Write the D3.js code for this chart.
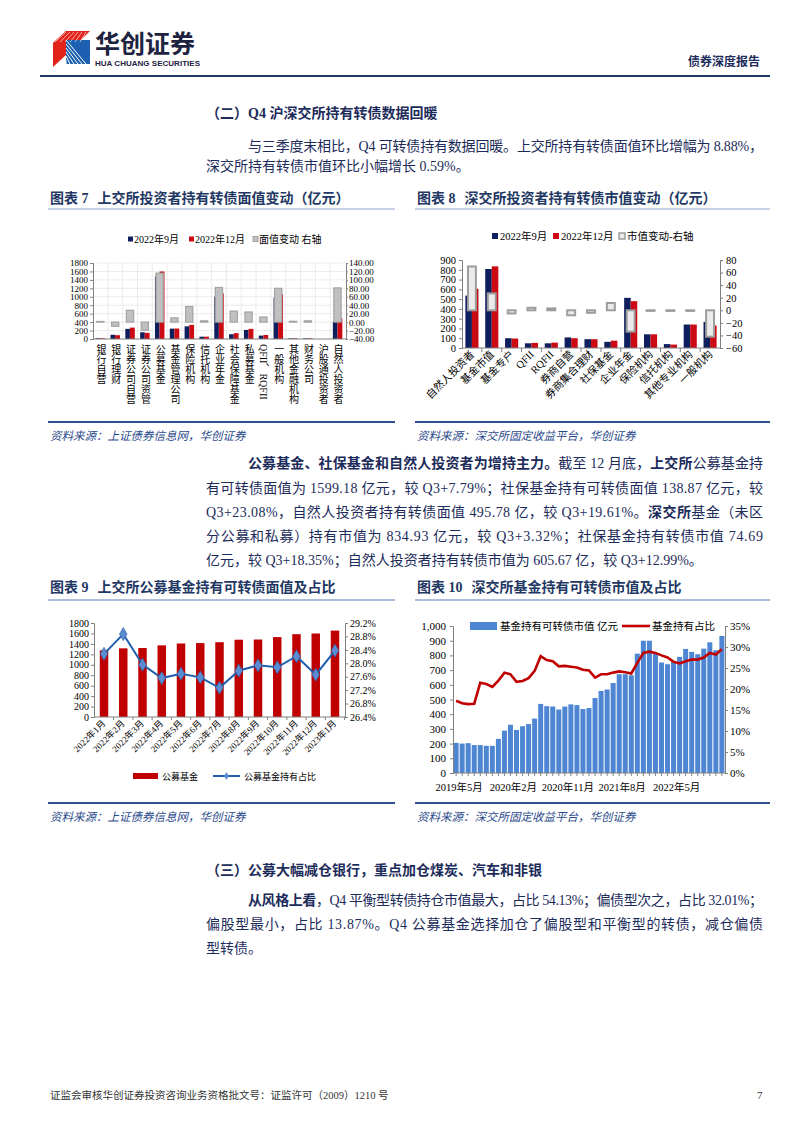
<!DOCTYPE html>
<html><head><meta charset="utf-8">
<script src="https://cdn.jsdelivr.net/npm/d3@7"></script>
<style>
body{margin:0;background:#fff;}
svg{display:block;}
</style></head><body><svg id="page" width="802" height="1133"></svg>
<script>
// ---------------- DATA ----------------
const c7Categories = ["银行自营","银行理财","证券公司自营","证券公司资管","公募基金","基金管理公司","保险机构","信托机构","企业年金","社会保障基金","私募基金","QFII、RQFII","一般机构","其他金融机构","财务公司","沪股通投资者","自然人投资者"];
const c7Sep    = [18, 100, 240, 160, 1484, 245, 300, 55, 1000, 113, 215, 80, 975, 15, 15, 0, 415];
const c7Dec    = [18, 90, 270, 145, 1599, 248, 335, 55, 1080, 139, 240, 95, 1055, 15, 15, 0, 496];
const c7Change = [1.5, -10, 28, -19, 116, 10, 37, 3, 82, 26, 24, 12, 80, 2, 3, 0, 81];
const c7LeftTicks = [0,200,400,600,800,1000,1200,1400,1600,1800];
const c7RightTicks = [-40,-20,0,20,40,60,80,100,120,140];
const c7Legend = ["2022年9月","2022年12月","面值变动 右轴"];

const c8Categories = ["自然人投资者","基金市值","基金专户","QFII","RQFII","券商自营","券商集合理财","社保基金","企业年金","保险机构","信托机构","其他专业机构","一般机构"];
const c8Sep    = [536, 808, 100, 48, 48, 108, 90, 63, 513, 140, 40, 240, 267];
const c8Dec    = [606, 835, 97, 52, 55, 100, 90, 75, 479, 140, 35, 240, 230];
const c8Change = [69.7, 26.9, -5, 4, 3, -8, -4, 11.6, -34, -1, -1, -1, -42];
const c8LeftTicks = [0,100,200,300,400,500,600,700,800,900];
const c8RightTicks = [-60,-40,-20,0,20,40,60,80];
const c8Legend = ["2022年9月","2022年12月","市值变动-右轴"];

const c9Months = ["2022年1月","2022年2月","2022年3月","2022年4月","2022年5月","2022年6月","2022年7月","2022年8月","2022年9月","2022年10月","2022年11月","2022年12月","2023年1月"];
const c9Values = [1276, 1315, 1321, 1372, 1408, 1415, 1432, 1480, 1484, 1530, 1586, 1599, 1655];
const c9Ratio  = [28.28, 28.87, 27.96, 27.56, 27.69, 27.58, 27.27, 27.78, 27.94, 27.88, 28.21, 27.66, 28.38];
const c9LeftTicks = [0,200,400,600,800,1000,1200,1400,1600,1800];
const c9RightTicks = [26.4,26.8,27.2,27.6,28.0,28.4,28.8,29.2];
const c9Legend = ["公募基金","公募基金持有占比"];

const c10Months = ["2019年5月","2019年6月","2019年7月","2019年8月","2019年9月","2019年10月","2019年11月","2019年12月",
 "2020年1月","2020年2月","2020年3月","2020年4月","2020年5月","2020年6月","2020年7月","2020年8月","2020年9月","2020年10月","2020年11月","2020年12月",
 "2021年1月","2021年2月","2021年3月","2021年4月","2021年5月","2021年6月","2021年7月","2021年8月","2021年9月","2021年10月","2021年11月","2021年12月",
 "2022年1月","2022年2月","2022年3月","2022年4月","2022年5月","2022年6月","2022年7月","2022年8月","2022年9月","2022年10月","2022年11月","2022年12月","2023年1月"];
const c10Values = [205,200,203,190,190,185,185,232,288,328,293,318,333,370,470,455,452,432,452,467,462,435,442,510,558,568,612,672,672,665,812,900,900,812,752,740,756,790,844,824,808,846,889,835,932];
const c10Ratio  = [17.2,16.6,16.4,16.5,21.5,21.2,20.5,22.0,23.9,23.5,21.7,21.9,22.6,24.3,27.8,26.9,26.6,25.4,25.5,25.3,25.1,24.6,24.4,22.7,23.5,23.5,23.9,24.2,24.0,23.7,26.2,28.6,28.9,28.6,28.0,27.5,26.5,26.1,26.6,27.0,27.0,27.5,28.6,28.2,29.5];
const c10LabelMonths = ["2019年5月","2020年2月","2020年11月","2021年8月","2022年5月"];
const c10LeftTicks = [0,100,200,300,400,500,600,700,800,900,1000];
const c10RightTicks = [0,0.05,0.10,0.15,0.20,0.25,0.30,0.35];
const c10Legend = ["基金持有可转债市值 亿元","基金持有占比"];

// ---------------- SETUP ----------------
const svg = d3.select("#page");
svg.append("rect").attr("width",802).attr("height",1133).attr("fill","#fff");
const NAVY = "#1c2b5a";
const SERIF = '"Liberation Serif","Noto Sans CJK SC",serif';
const CJK = '"Noto Sans CJK SC","Liberation Serif",sans-serif';
const BAR_NAVY = "#0f1f5e", BAR_RED = "#cc0a14";

function styleAxis(g, fs){
  g.attr("font-family",null).attr("font-size",null);
  g.select(".domain").attr("stroke","#808080");
  g.selectAll(".tick line").attr("stroke","#808080");
  g.selectAll(".tick text").attr("fill","#000").attr("font-size",fs).attr("font-family",SERIF);
}
function txt(x,y,s,opt={}){
  const t = svg.append("text").attr("x",x).attr("y",y).text(s)
    .attr("font-family",opt.family||SERIF).attr("font-size",opt.size||14)
    .attr("fill",opt.fill||NAVY);
  if(opt.bold) t.attr("font-weight","bold");
  if(opt.anchor) t.attr("text-anchor",opt.anchor);
  if(opt.italic) t.attr("font-style","italic");
  return t;
}
function richLine(x,y,segs,width,size){
  const t = svg.append("text").attr("x",x).attr("y",y).attr("font-family",SERIF)
    .attr("font-size",size||14).attr("fill",NAVY);
  segs.forEach(s=>{ const ts=t.append("tspan").text(s[0]); if(s[1]) ts.attr("font-weight","bold"); });
  if(width) t.attr("textLength",width).attr("lengthAdjust","spacing");
  return t;
}
function figTitle(x,y,label,title){
  const t = svg.append("text").attr("x",x).attr("y",y).attr("font-family",SERIF)
    .attr("font-size",14).attr("font-weight","bold").attr("fill","#1f3864");
  t.append("tspan").text(label);
  t.append("tspan").attr("dx",9).text(title);
}

// ---------------- HEADER ----------------
const logo = svg.append("g");
logo.append("path").attr("d","M53,43 L66,31 L66,55 L53,67 Z").attr("fill","#e2231a");
logo.append("path").attr("d","M66,31 L90,31 L78,43 L53,43 Z").attr("fill","#e2231a");
logo.append("rect").attr("x",66).attr("y",40).attr("width",24).attr("height",24).attr("fill","#1d5fb0");
for(let i=0;i<6;i++){
  logo.append("line").attr("x1",66+i*4).attr("y1",64).attr("x2",66).attr("y2",64-i*4-4)
    .attr("stroke","#fff").attr("stroke-width",1);
  logo.append("line").attr("x1",55+i*5).attr("y1",42).attr("x2",66+i*4).attr("y2",32)
    .attr("stroke","#fff").attr("stroke-width",0.8).attr("opacity",0.8);
}
txt(95,53,"华创证券",{family:CJK,size:25,bold:true,fill:"#1e2340"});
txt(95,66,"HUA CHUANG SECURITIES",{family:'"Liberation Sans",sans-serif',size:8,bold:true,fill:"#1e2340"}).attr("textLength",105);
txt(760,66,"债券深度报告",{family:CJK,size:12,bold:true,anchor:"end"});
svg.append("line").attr("x1",40).attr("x2",770).attr("y1",76).attr("y2",76).attr("stroke","#1f3864").attr("stroke-width",2.2);

// ---------------- SECTION 2 TEXT ----------------
txt(206,118,"（二）Q4 沪深交所持有转债数据回暖",{bold:true,size:14});
richLine(248,151,[["与三季度末相比，Q4 可转债持有数据回暖。上交所持有转债面值环比增幅为 8.88%，",false]],515);
richLine(206,171,[["深交所持有转债市值环比小幅增长 0.59%。",false]]);

// chart titles
figTitle(50,203,"图表 7","上交所投资者持有转债面值变动（亿元）");
figTitle(417,203,"图表 8","深交所投资者持有转债市值变动（亿元）");
[[48,395],[415,770]].forEach(r=>{
  svg.append("line").attr("x1",r[0]).attr("x2",r[1]).attr("y1",209).attr("y2",209).attr("stroke","#8fa6cc").attr("stroke-width",1);
  svg.append("line").attr("x1",r[0]).attr("x2",r[1]).attr("y1",422).attr("y2",422).attr("stroke","#2f4f8f").attr("stroke-width",1.8);
});
txt(50,440,"资料来源：上证债券信息网，华创证券",{family:CJK,size:11.5,italic:true,fill:"#2a4a8a"});
txt(417,440,"资料来源：深交所固定收益平台，华创证券",{family:CJK,size:11.5,italic:true,fill:"#2a4a8a"});

// ---------------- CHART 7 ----------------
(function(){
  const g = svg.append("g");
  const x = d3.scaleBand().domain(c7Categories).range([93,345]);
  const bw = x.bandwidth();
  const yL = d3.scaleLinear().domain([0,1800]).range([339,263]);
  const yR = d3.scaleLinear().domain([-40,140]).range([339,263]);
  g.selectAll(".hg").data(c7LeftTicks.slice(1)).join("line")
    .attr("x1",93).attr("x2",345).attr("y1",d=>yL(d)).attr("y2",d=>yL(d)).attr("stroke","#e4e4e4").attr("stroke-width",0.7);
  g.selectAll(".vg").data(c7Categories.slice(1)).join("line")
    .attr("x1",d=>x(d)).attr("x2",d=>x(d)).attr("y1",263).attr("y2",339).attr("stroke","#e4e4e4").attr("stroke-width",0.7);
  const rows = c7Categories.map((c,i)=>({c,s:c7Sep[i],d:c7Dec[i],v:c7Change[i]}));
  g.selectAll(".b1").data(rows).join("rect").attr("x",d=>x(d.c)+bw*0.18).attr("width",bw*0.31)
    .attr("y",d=>yL(d.s)).attr("height",d=>yL(0)-yL(d.s)).attr("fill",BAR_NAVY);
  g.selectAll(".b2").data(rows).join("rect").attr("x",d=>x(d.c)+bw*0.49).attr("width",bw*0.33)
    .attr("y",d=>yL(d.d)).attr("height",d=>yL(0)-yL(d.d)).attr("fill",BAR_RED);
  g.selectAll(".b3").data(rows.filter(d=>d.v!==0)).join("rect").attr("x",d=>x(d.c)+bw*0.25).attr("width",bw*0.49)
    .attr("y",d=>Math.min(yR(0),yR(d.v))).attr("height",d=>Math.abs(yR(d.v)-yR(0)))
    .attr("fill","#c0c0c0").attr("stroke","#a3a3a3").attr("stroke-width",1.2);
  const aL = g.append("g").attr("transform","translate(93,0)").call(d3.axisLeft(yL).tickValues(c7LeftTicks).tickSize(3).tickPadding(2).tickFormat(d3.format("d")));
  styleAxis(aL,9);
  const aR = g.append("g").attr("transform","translate(346,0)").call(d3.axisRight(yR).tickValues(c7RightTicks).tickSize(2).tickPadding(1).tickFormat(d3.format(".2f")));
  styleAxis(aR,9);
  g.append("line").attr("x1",93).attr("x2",346).attr("y1",339).attr("y2",339).attr("stroke","#808080");
  g.selectAll(".xl").data(c7Categories).join("text")
    .attr("x",d=>x(d)+bw/2).attr("y",344)
    .attr("style","writing-mode: vertical-rl; text-orientation: mixed;")
    .attr("font-family",SERIF).attr("font-size",10).attr("fill","#000").text(d=>d);
  // legend
  const lg = g.append("g");
  const lx = [128,189,253], cols=[BAR_NAVY,BAR_RED,"#c0c0c0"];
  c7Legend.forEach((s,i)=>{
    lg.append("rect").attr("x",lx[i]).attr("y",236.5).attr("width",5).attr("height",5).attr("fill",cols[i]).attr("stroke",i==2?"#a3a3a3":"none");
    lg.append("text").attr("x",lx[i]+6).attr("y",242.5).attr("font-family",SERIF).attr("font-size",10).attr("fill","#000").text(s);
  });
})();

// ---------------- CHART 8 ----------------
(function(){
  const g = svg.append("g");
  const x = d3.scaleBand().domain(c8Categories).range([462,720]);
  const bw = x.bandwidth();
  const yL = d3.scaleLinear().domain([0,900]).range([348,260]);
  const yR = d3.scaleLinear().domain([-60,80]).range([348,260]);
  const rows = c8Categories.map((c,i)=>({c,s:c8Sep[i],d:c8Dec[i],v:c8Change[i]}));
  g.selectAll(".b1").data(rows).join("rect").attr("x",d=>x(d.c)+bw*0.17).attr("width",bw*0.33)
    .attr("y",d=>yL(d.s)).attr("height",d=>yL(0)-yL(d.s)).attr("fill",BAR_NAVY);
  g.selectAll(".b2").data(rows).join("rect").attr("x",d=>x(d.c)+bw*0.5).attr("width",bw*0.33)
    .attr("y",d=>yL(d.d)).attr("height",d=>yL(0)-yL(d.d)).attr("fill",BAR_RED);
  g.selectAll(".b3").data(rows).join("rect").attr("x",d=>x(d.c)+bw*0.3).attr("width",bw*0.4)
    .attr("y",d=>Math.min(yR(0),yR(d.v))).attr("height",d=>Math.abs(yR(d.v)-yR(0)))
    .attr("fill","#ebebeb").attr("stroke","#9d9d9d").attr("stroke-width",2);
  const aL = g.append("g").attr("transform","translate(462,0)").call(d3.axisLeft(yL).tickValues(c8LeftTicks).tickSize(3).tickPadding(3));
  styleAxis(aL,10.5);
  const aR = g.append("g").attr("transform","translate(720,0)").call(d3.axisRight(yR).tickValues(c8RightTicks).tickSize(3).tickPadding(3));
  styleAxis(aR,10.5);
  g.append("line").attr("x1",462).attr("x2",720).attr("y1",348).attr("y2",348).attr("stroke","#808080");
  g.selectAll(".xt").data(c8Categories.slice(1)).join("line").attr("x1",d=>x(d)).attr("x2",d=>x(d))
    .attr("y1",348).attr("y2",352).attr("stroke","#808080");
  g.selectAll(".xl").data(c8Categories).join("text")
    .attr("transform",d=>`translate(${x(d)+bw/2+3},355) rotate(-45)`).attr("text-anchor","end")
    .attr("font-family",SERIF).attr("font-size",10.5).attr("fill","#000").text(d=>d);
  const lx=[492,553,619], cols=[BAR_NAVY,BAR_RED,"#ebebeb"];
  c8Legend.forEach((s,i)=>{
    g.append("rect").attr("x",lx[i]).attr("y",233).attr("width",6).attr("height",6).attr("fill",cols[i])
      .attr("stroke",i==2?"#9d9d9d":"none").attr("stroke-width",1.5);
    g.append("text").attr("x",lx[i]+8).attr("y",240).attr("font-family",SERIF).attr("font-size",10.5).attr("fill","#000").text(s);
  });
})();

// ---------------- SECTION PARAGRAPH ----------------
richLine(248,468,[["公募基金、社保基金和自然人投资者为增持主力。",true],["截至 12 月底，",false],["上交所",true],["公募基金持",false]],515);
richLine(206,493,[["有可转债面值为 1599.18 亿元，较 Q3+7.79%；社保基金持有可转债面值 138.87 亿元，较",false]],557);
richLine(206,517,[["Q3+23.08%，自然人投资者持有转债面值 495.78 亿，较 Q3+19.61%。",false],["深交所",true],["基金（未区",false]],557);
richLine(206,541,[["分公募和私募）持有市值为 834.93 亿元，较 Q3+3.32%；社保基金持有转债市值 74.69",false]],557);
richLine(206,565,[["亿元，较 Q3+18.35%；自然人投资者持有转债市值为 605.67 亿，较 Q3+12.99%。",false]]);

figTitle(50,592,"图表 9","上交所公募基金持有可转债面值及占比");
figTitle(417,592,"图表 10","深交所基金持有可转债市值及占比");
[[48,395],[415,770]].forEach(r=>{
  svg.append("line").attr("x1",r[0]).attr("x2",r[1]).attr("y1",600).attr("y2",600).attr("stroke","#5b7db8").attr("stroke-width",1.2);
  svg.append("line").attr("x1",r[0]).attr("x2",r[1]).attr("y1",803).attr("y2",803).attr("stroke","#2f4f8f").attr("stroke-width",1.8);
});
txt(50,821,"资料来源：上证债券信息网，华创证券",{family:CJK,size:11.5,italic:true,fill:"#2a4a8a"});
txt(417,821,"资料来源：深交所固定收益平台，华创证券",{family:CJK,size:11.5,italic:true,fill:"#2a4a8a"});

// ---------------- CHART 9 ----------------
(function(){
  const g = svg.append("g");
  const x = d3.scaleBand().domain(c9Months).range([94,345]).paddingInner(0.56).paddingOuter(0.3);
  const bw = x.bandwidth();
  const step = x.step();
  const yL = d3.scaleLinear().domain([0,1800]).range([717,623]);
  const yR = d3.scaleLinear().domain([26.4,29.2]).range([717,623]);
  g.selectAll(".b").data(c9Months).join("rect").attr("x",d=>x(d)).attr("width",bw)
    .attr("y",(d,i)=>yL(c9Values[i])).attr("height",(d,i)=>yL(0)-yL(c9Values[i])).attr("fill","#c00000");
  const line = d3.line().x((d,i)=>x(c9Months[i])+bw/2).y(d=>yR(d));
  g.append("path").datum(c9Ratio).attr("d",line).attr("fill","none").attr("stroke","#1f5fae").attr("stroke-width",2);
  g.selectAll(".m").data(c9Ratio).join("path").attr("d",d3.symbol(d3.symbolDiamond,50))
    .attr("transform",(d,i)=>`translate(${x(c9Months[i])+bw/2},${yR(d)})`).attr("fill","#5b8bd0").attr("stroke","#2e5ca8").attr("stroke-width",0.6);
  const aL = g.append("g").attr("transform","translate(94,0)").call(d3.axisLeft(yL).tickValues(c9LeftTicks).tickSize(3).tickPadding(2).tickFormat(d3.format("d")));
  styleAxis(aL,10);
  const aR = g.append("g").attr("transform","translate(345,0)").call(d3.axisRight(yR).tickValues(c9RightTicks).tickSize(3).tickPadding(2).tickFormat(d=>d.toFixed(1)+"%"));
  styleAxis(aR,10);
  g.append("line").attr("x1",94).attr("x2",345).attr("y1",717).attr("y2",717).attr("stroke","#808080");
  g.selectAll(".xt").data(c9Months).join("line").attr("x1",d=>x(d)+bw/2+step/2).attr("x2",d=>x(d)+bw/2+step/2)
    .attr("y1",717).attr("y2",720).attr("stroke","#808080");
  g.selectAll(".xl").data(c9Months).join("text")
    .attr("transform",d=>`translate(${x(d)+bw/2+2},724) rotate(-45)`).attr("text-anchor","end")
    .attr("font-family",SERIF).attr("font-size",9).attr("fill","#000").text(d=>d);
  g.append("rect").attr("x",133).attr("y",773).attr("width",25).attr("height",6).attr("fill","#c00000");
  g.append("text").attr("x",162).attr("y",780).attr("font-family",SERIF).attr("font-size",9).attr("fill","#000").text(c9Legend[0]);
  g.append("line").attr("x1",213).attr("x2",240).attr("y1",776).attr("y2",776).attr("stroke","#1f5fae").attr("stroke-width",2);
  g.append("path").attr("d",d3.symbol(d3.symbolDiamond,18)).attr("transform","translate(226.5,776)").attr("fill","#5b8bd0");
  g.append("text").attr("x",244).attr("y",780).attr("font-family",SERIF).attr("font-size",9).attr("fill","#000").text(c9Legend[1]);
})();

// ---------------- CHART 10 ----------------
(function(){
  const g = svg.append("g");
  const x = d3.scaleBand().domain(c10Months).range([453,725]).paddingInner(0.17).paddingOuter(0.1);
  const bw = x.bandwidth();
  const yL = d3.scaleLinear().domain([0,1000]).range([773,626]);
  const yR = d3.scaleLinear().domain([0,0.35]).range([773,626]);
  g.selectAll(".b").data(c10Months).join("rect").attr("x",d=>x(d)).attr("width",bw)
    .attr("y",(d,i)=>yL(c10Values[i])).attr("height",(d,i)=>yL(0)-yL(c10Values[i])).attr("fill","#4f86d4");
  const line = d3.line().x((d,i)=>x(c10Months[i])+bw/2).y(d=>yR(d/100));
  g.append("path").datum(c10Ratio).attr("d",line).attr("fill","none").attr("stroke","#c00000").attr("stroke-width",2.6);
  const aL = g.append("g").attr("transform","translate(453,0)").call(d3.axisLeft(yL).tickValues(c10LeftTicks).tickSize(3).tickPadding(4).tickFormat(d3.format(",")));
  styleAxis(aL,11);
  const aR = g.append("g").attr("transform","translate(725,0)").call(d3.axisRight(yR).tickValues(c10RightTicks).tickSize(3).tickPadding(2).tickFormat(d3.format(".0%")));
  styleAxis(aR,11);
  g.append("line").attr("x1",453).attr("x2",725).attr("y1",773).attr("y2",773).attr("stroke","#808080");
  g.selectAll(".xt").data(c10Months).join("line").attr("x1",d=>x(d)+bw/2).attr("x2",d=>x(d)+bw/2)
    .attr("y1",773).attr("y2",776).attr("stroke","#808080");
  g.selectAll(".xl").data(c10LabelMonths).join("text").attr("x",d=>x(d)+bw/2+3).attr("y",791)
    .attr("text-anchor","middle").attr("font-family",SERIF).attr("font-size",10.5).attr("fill","#000").text(d=>d);
  g.append("rect").attr("x",470).attr("y",622).attr("width",27).attr("height",8).attr("fill","#4f86d4");
  g.append("text").attr("x",500).attr("y",630).attr("font-family",SERIF).attr("font-size",10.5).attr("fill","#000").text(c10Legend[0]);
  g.append("line").attr("x1",622).attr("x2",650).attr("y1",626).attr("y2",626).attr("stroke","#c00000").attr("stroke-width",2.6);
  g.append("text").attr("x",652).attr("y",630).attr("font-family",SERIF).attr("font-size",10.5).attr("fill","#000").text(c10Legend[1]);
})();

// ---------------- SECTION 3 ----------------
txt(206,875,"（三）公募大幅减仓银行，重点加仓煤炭、汽车和非银",{bold:true,size:14});
richLine(248,905,[["从风格上看",true],["，Q4 平衡型转债持仓市值最大，占比 54.13%；偏债型次之，占比 32.01%；",false]],515);
richLine(206,929,[["偏股型最小，占比 13.87%。Q4 公募基金选择加仓了偏股型和平衡型的转债，减仓偏债",false]],557);
richLine(206,953,[["型转债。",false]]);

// ---------------- FOOTER ----------------
txt(50,1099,"证监会审核华创证券投资咨询业务资格批文号：证监许可（2009）1210 号",{size:10.5,fill:"#333"});
txt(757,1099,"7",{size:11,fill:"#333"});
</script></body></html>
